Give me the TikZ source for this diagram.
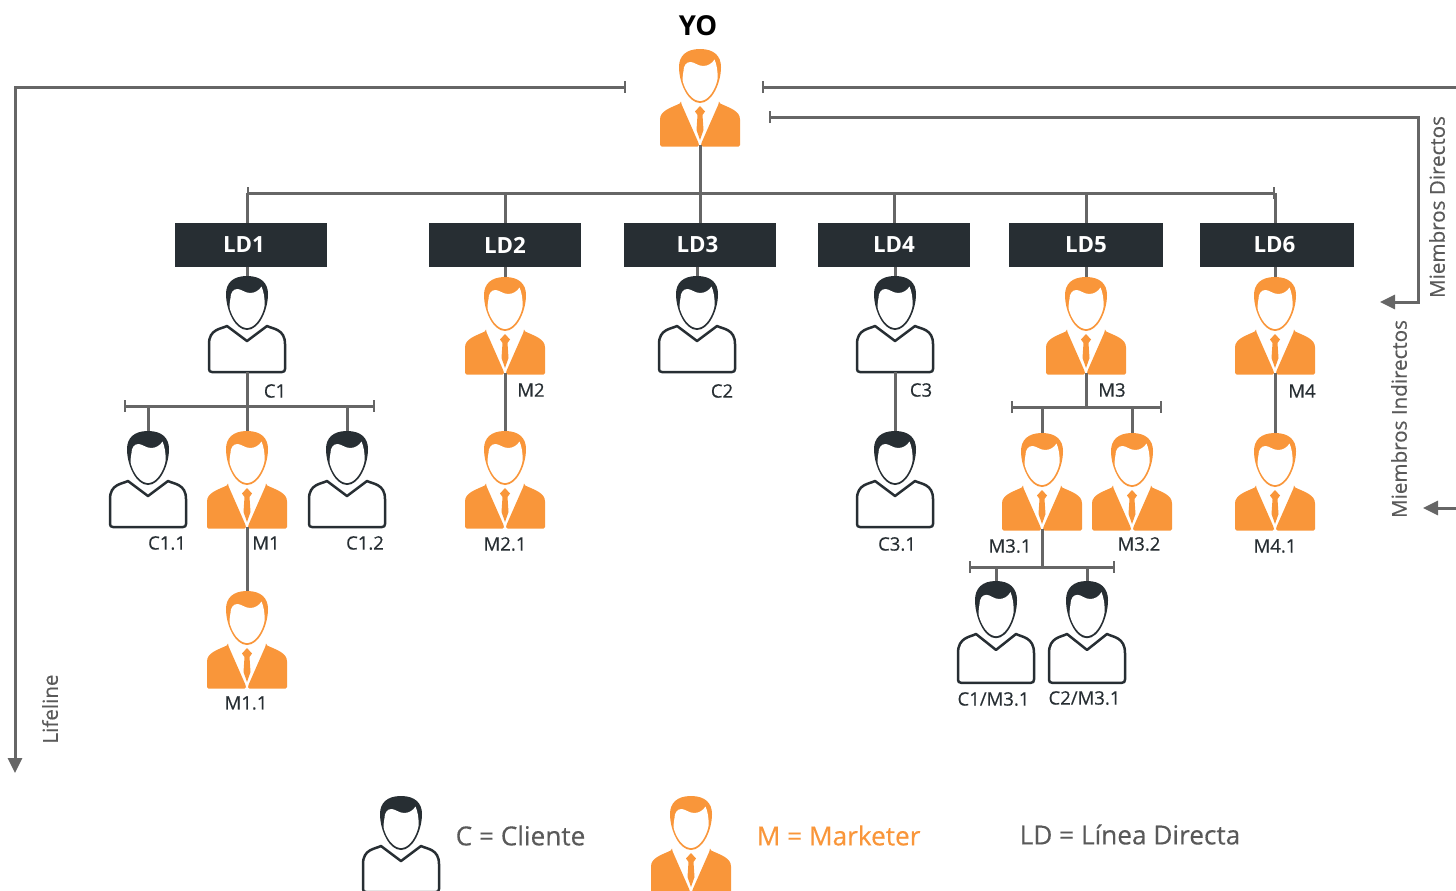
\documentclass[tikz,border=0pt]{standalone}
\usepackage{fontspec}
\setmainfont{Open Sans}
\newfontfamily\semif[FakeBold=0.35]{Open Sans}
\usetikzlibrary{arrows.meta,calc}
\definecolor{orangeM}{HTML}{F9963A}
\definecolor{darkC}{HTML}{272E33}
\definecolor{lineG}{HTML}{666666}
\definecolor{textG}{HTML}{595959}
\tikzset{
  personbox/.style={anchor=north,minimum width=78pt,minimum height=96pt,inner sep=0pt,outer sep=0pt},
  ldbox/.style={fill=darkC,text=white,minimum height=44pt,inner sep=0pt,font=\fontsize{22.3}{25}\selectfont\bfseries},
  conn/.style={draw=lineG,line width=3pt},
  lab/.style={inner sep=0pt,text=darkC,font=\fontsize{18.5}{21}\selectfont\semif},
  rot/.style={inner sep=0pt,rotate=90,text=textG,font=\fontsize{20.6}{24}\selectfont\semif},
  legendt/.style={inner sep=0pt,anchor=west,font=\fontsize{26.2}{30}\selectfont\semif},
  bars/.style={{Bar[width=12pt,line width=2.4pt]}-{Bar[width=12pt,line width=2.4pt]}},
  barstart/.style={{Bar[width=12pt,line width=2.4pt]}-},
  bartip/.style={{Bar[width=12pt,line width=2.4pt]}-{Triangle[length=15pt,width=14pt]}},
  tip/.style={-{Triangle[length=15pt,width=14pt]}},
}
\newcommand{\headshape}[1]{%
  \fill[#1] (0,0) .. controls (-14,0) and (-21,7) .. (-21,18)
    .. controls (-21,34) and (-12,54) .. (0,54)
    .. controls (12,54) and (21,34) .. (21,18)
    .. controls (21,7) and (14,0) .. (0,0) -- cycle;
  \fill[white] (-16.5,22) .. controls (-16.5,17) and (-14,13) .. (-9.5,13)
    .. controls (-6,13) and (-2,17) .. (3,17)
    .. controls (8,17) and (12,14.5) .. (14.5,10.5)
    .. controls (16.5,15) and (18,22) .. (17.5,30)
    .. controls (15.5,41) and (8,52) .. (0,52)
    .. controls (-8,52) and (-15.5,41) .. (-17.5,31)
    .. controls (-17.5,28) and (-17,25) .. (-16.5,22) -- cycle;
}
\newcommand{\personO}[3]{%
  \node[personbox] (#1) at (#2,#3) {};
  \begin{scope}[shift={(#2,#3)}]
    \headshape{orangeM}
    \fill[orangeM,rounded corners=1.5pt] (-19,54) -- (-1,95) -- (-1,97.5) -- (-40,97.5) -- (-40,72)
      .. controls (-40,62) and (-30,59) .. (-19,54) -- cycle;
    \fill[orangeM,rounded corners=1.5pt] (19,54) -- (1,95) -- (1,97.5) -- (40,97.5) -- (40,72)
      .. controls (40,62) and (30,59) .. (19,54) -- cycle;
    \fill[orangeM] (0,57) -- (5,62.5) -- (2.5,66) -- (3.5,81) -- (0,91) -- (-3.5,81) -- (-2.5,66) -- (-5,62.5) -- cycle;
  \end{scope}}
\newcommand{\personC}[4][1]{%
  \node[personbox,minimum height=#1*96pt] (#2) at (#3,#4) {};
  \begin{scope}[shift={(#3,#4)},yscale=#1]
    \headshape{darkC}
    \draw[darkC,line width=2.5pt,line join=round] (-20,50) -- (0,65) -- (20,50)
      .. controls (26,53) and (38,53) .. (38,68)
      -- (38,93) .. controls (38,95) and (37,96) .. (35,96)
      -- (-35,96) .. controls (-37,96) and (-38,95) .. (-38,93)
      -- (-38,68) .. controls (-38,53) and (-26,53) .. (-20,50) -- cycle;
  \end{scope}}
\begin{document}
\begin{tikzpicture}[x=1pt,y=-1pt]
\useasboundingbox (0,0) rectangle (1456,891);
% people
\personO{yo}{700}{49}
\personC{c1}{247}{276}
\personO{m2}{505}{277}
\personC{c2}{697}{276}
\personC{c3}{895}{276}
\personO{m3}{1086}{277}
\personO{m4}{1275}{277}
\personC{c11}{148}{431}
\personO{m1}{247}{431}
\personC{c12}{347}{431}
\personO{m21}{505}{431}
\personC{c31}{895}{431}
\personO{m31}{1042}{433}
\personO{m32}{1132}{433}
\personO{m41}{1275}{433}
\personO{m11}{247}{591}
\personC[1.06]{c1m}{996}{581}
\personC[1.06]{c2m}{1087}{581}
\personC{legc}{401}{796}
\personO{legm}{691}{796}
% LD boxes
\node[ldbox,minimum width=152pt] (ld1) at (251,245) {\hspace{-14pt}LD1};
\node[ldbox,minimum width=152pt] (ld2) at (505,245) {LD2};
\node[ldbox,minimum width=152pt] (ld3) at (700,245) {\hspace{-5pt}LD3};
\node[ldbox,minimum width=152pt] (ld4) at (894,245) {LD4};
\node[ldbox,minimum width=154pt] (ld5) at (1086,245) {LD5};
\node[ldbox,minimum width=154pt] (ld6) at (1277,245) {\hspace{-5pt}LD6};
% free ends
\coordinate (busL) at (247,193);
\coordinate (busR) at (1275,193);
\coordinate (busC) at (700,193);
\coordinate (b1L) at (124,406);
\coordinate (b1R) at (375,406);
\coordinate (b3L) at (1011,407);
\coordinate (b3R) at (1162,407);
\coordinate (b31L) at (969,567);
\coordinate (b31R) at (1115,567);
\coordinate (leftS) at (626,87);
\coordinate (leftC) at (15,87);
\coordinate (leftE) at (15,773);
\coordinate (rightS) at (762,87);
\coordinate (rightE) at (1456,87);
\coordinate (dirS) at (769,117);
\coordinate (dirC1) at (1418,117);
\coordinate (dirC2) at (1418,302);
\coordinate (dirE) at (1380,302);
\coordinate (indS) at (1456,508);
\coordinate (indE) at (1423,508);
% connectors
\draw[conn] (yo.south) -- (busC);
\draw[conn,bars] (busL) -- (busR);
\draw[conn] (busL) -- (busL |- ld1.north);
\draw[conn] (m2.north |- busL) -- (m2.north |- ld2.north);
\draw[conn] (busC) -- (busC |- ld3.north);
\draw[conn] (ld4.north |- busL) -- (ld4.north);
\draw[conn] (ld5.north |- busL) -- (ld5.north);
\draw[conn] (busR) -- (busR |- ld6.north);
\draw[conn] (c1.north |- ld1.south) -- (c1.north);
\draw[conn] (m2.north |- ld2.south) -- (m2.north);
\draw[conn] (c2.north |- ld3.south) -- (c2.north);
\draw[conn] (c3.north |- ld4.south) -- (c3.north);
\draw[conn] (m3.north |- ld5.south) -- (m3.north);
\draw[conn] (m4.north |- ld6.south) -- (m4.north);
\draw[conn] (c1.south) -- (m1.north);
\draw[conn,bars] (b1L) -- (b1R);
\draw[conn] (c11.north |- b1L) -- (c11.north);
\draw[conn] (c12.north |- b1L) -- (c12.north);
\draw[conn] (m1.south) -- (m11.north);
\draw[conn] (m2.south) -- (m21.north);
\draw[conn] (c3.south) -- (c31.north);
\draw[conn] (m4.south) -- (m41.north);
\draw[conn] (m3.south) -- (m3.south |- b3L);
\draw[conn,bars] (b3L) -- (b3R);
\draw[conn] (m31.north |- b3L) -- (m31.north);
\draw[conn] (m32.north |- b3L) -- (m32.north);
\draw[conn] (m31.south) -- (m31.south |- b31L);
\draw[conn,bars] (b31L) -- (b31R);
\draw[conn] (c1m.north |- b31L) -- (c1m.north);
\draw[conn] (c2m.north |- b31L) -- (c2m.north);
\draw[conn,bartip] (leftS) -- (leftC) -- (leftE);
\draw[conn,barstart] (rightS) -- (rightE);
\draw[conn,bartip] (dirS) -- (dirC1) -- (dirC2) -- (dirE);
\draw[conn,tip] (indS) -- (indE);
% labels
\node[inner sep=0pt,text=black,font=\fontsize{27.5}{30}\selectfont\bfseries] (tyo) at (698,26) {YO};
\node[lab] (l1) at (275,391) {C1};
\node[lab] (l2) at (531,390) {M2};
\node[lab] (l3) at (722,391) {C2};
\node[lab] (l4) at (921,390) {C3};
\node[lab] (l5) at (1112,390) {M3};
\node[lab] (l6) at (1302,391) {M4};
\node[lab] (l7) at (167,543) {C1.1};
\node[lab] (l8) at (266,543) {M1};
\node[lab] (l9) at (365,543) {C1.2};
\node[lab] (l10) at (505,544) {M2.1};
\node[lab] (l11) at (897,544) {C3.1};
\node[lab] (l12) at (1010,546) {M3.1};
\node[lab] (l13) at (1139,544) {M3.2};
\node[lab] (l14) at (1275,546) {M4.1};
\node[lab] (l15) at (993.5,699) {C1/M3.1};
\node[lab] (l16) at (1084.5,698) {C2/M3.1};
\node[lab] (l17) at (246,703) {M1.1};
\node[rot] (r1) at (50,709) {Lifeline};
\node[rot] (r2) at (1437,207) {Miembros Directos};
\node[rot] (r3) at (1399,419) {Miembros Indirectos};
\node[legendt,text=textG] (t1) at (455.5,835.5) {C = Cliente};
\node[legendt,text=orangeM] (t2) at (756.5,835.5) {M = Marketer};
\node[legendt,text=textG] (t3) at (1019.5,834.5) {LD = Línea Directa};
\end{tikzpicture}
\end{document}
